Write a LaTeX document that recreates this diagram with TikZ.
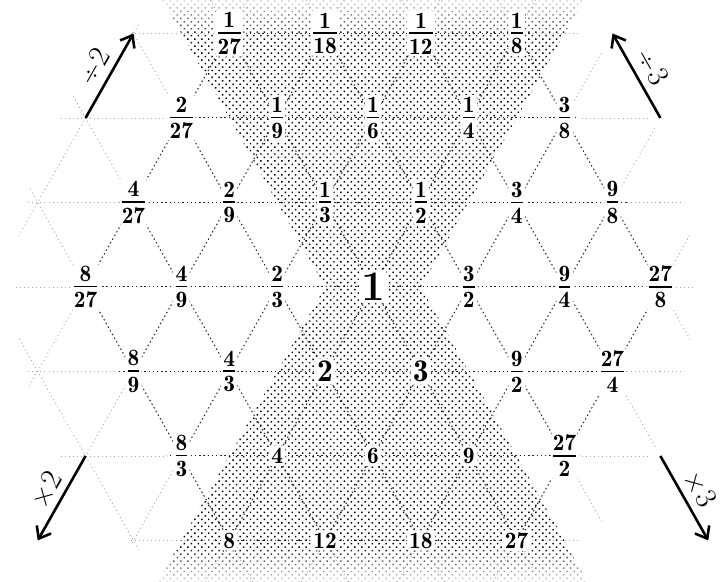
\documentclass[tikz,border=0pt]{standalone}
\usepackage{tikz}
\usetikzlibrary{arrows.meta,patterns.meta,fadings}

\tikzfading[name=fade down, top color=transparent!15, bottom color=transparent!100]
\tikzfading[name=fade up, top color=transparent!100, bottom color=transparent!15]

\newcommand\fr[2]{\vbox{\offinterlineskip\halign{\hfil##\hfil\cr#1\cr\noalign{\kern3.6pt\hrule height1.3pt\kern4pt}#2\cr}}}

\begin{document}
\begin{tikzpicture}[x=14.37mm,y=25.35mm,
  val/.style={fill=white,rounded corners=3pt,inner sep=2pt,font=\fontsize{20}{24}\fontseries{b}\selectfont},
  valbig/.style={val,font=\fontsize{27}{32}\fontseries{b}\selectfont},
  valone/.style={val,font=\fontsize{36}{40}\bfseries},
  inner line/.style={draw=black!85,line width=0.9pt,dash pattern=on 1.2pt off 2.4pt},
  outer line/.style={draw=black!35,line width=0.7pt,dash pattern=on 0.9pt off 2.6pt},
  op/.style={line width=2.2pt,-{Straight Barb[length=9pt,width=14pt]}},
  oplabel/.style={midway,sloped,above=5pt,inner sep=1pt,font=\fontsize{26}{30}\selectfont}]
\useasboundingbox (-7.787,-3.491) rectangle (7.370,3.396);
\begin{scope}
\clip (-7.787,-3.491) rectangle (7.370,3.396);
\fill[pattern={Dots[distance=4.2pt,radius=0.9pt,angle=45]},pattern color=black] (-1,0) -- (-4.6,3.6) -- (4.6,3.6) -- (1,0) -- (4.6,-3.6) -- (-4.6,-3.6) -- cycle;
\fill[white,path fading=fade down] (-7.787,2.95) rectangle (7.370,3.396);
\fill[white,path fading=fade up] (-7.787,-3.491) rectangle (7.370,-3.05);
\end{scope}
\begin{scope}[even odd rule]
\clip (-0.376,0) circle [radius=102mm] (-3.15,3.15) -- (3.15,3.15) -- (6.3,0) -- (3.15,-3.15) -- (-3.15,-3.15) -- (-6.3,0) -- cycle;
\foreach \r in {-3,...,3} \draw[outer line] (-9,\r) -- (9,\r);
\foreach \k in {-16,-14,...,16} {\draw[outer line] (\k-4,-4) -- (\k+4,4); \draw[outer line] (\k+4,-4) -- (\k-4,4);}
\end{scope}
\begin{scope}
\clip (-3.15,3.15) -- (3.15,3.15) -- (6.3,0) -- (3.15,-3.15) -- (-3.15,-3.15) -- (-6.3,0) -- cycle;
\foreach \r in {-3,...,3} \draw[inner line] (-9,\r) -- (9,\r);
\foreach \k in {-16,-14,...,16} {\draw[inner line] (\k-4,-4) -- (\k+4,4); \draw[inner line] (\k+4,-4) -- (\k-4,4);}
\end{scope}
\node[val] (a1) at (-3,3) {\fr{1}{27}};
\node[val] (a2) at (-1,3) {\fr{1}{18}};
\node[val] (a3) at (1,3) {\fr{1}{12}};
\node[val] (a4) at (3,3) {\fr{1}{8}};
\node[val] (b1) at (-4,2) {\fr{2}{27}};
\node[val] (b2) at (-2,2) {\fr{1}{9}};
\node[val] (b3) at (0,2) {\fr{1}{6}};
\node[val] (b4) at (2,2) {\fr{1}{4}};
\node[val] (b5) at (4,2) {\fr{3}{8}};
\node[val] (c1) at (-5,1) {\fr{4}{27}};
\node[val] (c2) at (-3,1) {\fr{2}{9}};
\node[val] (c3) at (-1,1) {\fr{1}{3}};
\node[val] (c4) at (1,1) {\fr{1}{2}};
\node[val] (c5) at (3,1) {\fr{3}{4}};
\node[val] (c6) at (5,1) {\fr{9}{8}};
\node[val] (d1) at (-6,0) {\fr{8}{27}};
\node[val] (d2) at (-4,0) {\fr{4}{9}};
\node[val] (d3) at (-2,0) {\fr{2}{3}};
\node[valone] (d4) at (0,0) {1};
\node[val] (d5) at (2,0) {\fr{3}{2}};
\node[val] (d6) at (4,0) {\fr{9}{4}};
\node[val] (d7) at (6,0) {\fr{27}{8}};
\node[val] (e1) at (-5,-1) {\fr{8}{9}};
\node[val] (e2) at (-3,-1) {\fr{4}{3}};
\node[valbig] (e3) at (-1,-1) {2};
\node[valbig] (e4) at (1,-1) {3};
\node[val] (e5) at (3,-1) {\fr{9}{2}};
\node[val] (e6) at (5,-1) {\fr{27}{4}};
\node[val] (f1) at (-4,-2) {\fr{8}{3}};
\node[val] (f2) at (-2,-2) {4};
\node[val] (f3) at (0,-2) {6};
\node[val] (f4) at (2,-2) {9};
\node[val] (f5) at (4,-2) {\fr{27}{2}};
\node[val] (g1) at (-3,-3) {8};
\node[val] (g2) at (-1,-3) {12};
\node[val] (g3) at (1,-3) {18};
\node[val] (g4) at (3,-3) {27};
\coordinate (div2a) at (-6,2);
\coordinate (div2b) at (-5,3);
\coordinate (div3a) at (6,2);
\coordinate (div3b) at (5,3);
\coordinate (mul2a) at (-6,-2);
\coordinate (mul2b) at (-7,-3);
\coordinate (mul3a) at (6,-2);
\coordinate (mul3b) at (7,-3);
\draw[op] (div2a) -- node[oplabel] {÷\kern1pt2} (div2b);
\draw[op] (div3a) -- node[oplabel] {÷\kern1pt3} (div3b);
\draw[op] (mul2a) -- node[oplabel] {×\kern1pt2} (mul2b);
\draw[op] (mul3a) -- node[oplabel] {×\kern1pt3} (mul3b);
\end{tikzpicture}
\end{document}
